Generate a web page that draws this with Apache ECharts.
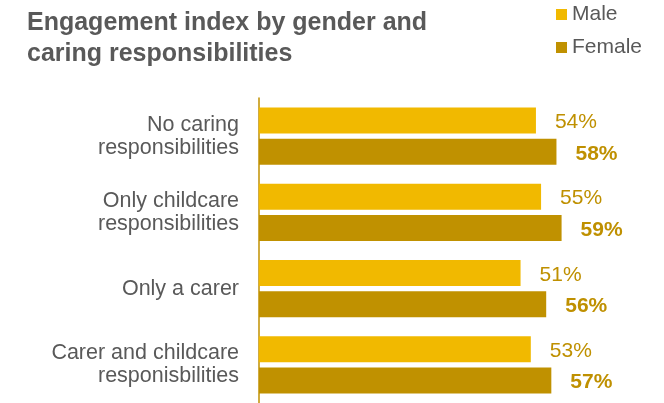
<!DOCTYPE html>
<html>
<head>
<meta charset="utf-8">
<script src="https://cdn.jsdelivr.net/npm/echarts@6/dist/echarts.min.js"></script>
<style>
  html, body { margin: 0; padding: 0; background: #fff; }
  #chart { width: 664px; height: 403px; }
</style>
</head>
<body>
<div id="chart"></div>
<script>
// Engagement index (%) by gender and caring responsibilities
const categories = [
  'No caring\nresponsibilities',
  'Only childcare\nresponsibilities',
  'Only a carer',
  'Carer and childcare\nresponisbilities'
];
const maleValues = [54, 55, 51, 53];
const femaleValues = [58, 59, 56, 57];
const seriesNames = ['Male', 'Female'];

const MALE_COLOR = '#F1B900';
const FEMALE_COLOR = '#C09100';
const LABEL_COLOR = '#BF9000';
const TEXT_COLOR = '#595959';
const FONT = '"Liberation Sans", Arial, Helvetica, sans-serif';

const chart = echarts.init(document.getElementById('chart'), null, { renderer: 'canvas' });

function valueLabel(bold) {
  return {
    show: true,
    position: 'right',
    distance: 19,
    offset: [0, 2],
    formatter: '{c}%',
    fontFamily: FONT,
    fontSize: 21,
    fontWeight: bold ? 'bold' : 'normal',
    color: LABEL_COLOR
  };
}

chart.setOption({
  animation: false,
  backgroundColor: '#ffffff',
  title: {
    text: 'Engagement index by gender and\ncaring responsibilities',
    left: 27,
    top: 8,
    padding: 0,
    textStyle: {
      fontFamily: FONT,
      fontWeight: 'bold',
      fontSize: 25,
      lineHeight: 31,
      color: TEXT_COLOR
    }
  },
  legend: {
    orient: 'vertical',
    left: 556,
    top: 4,
    padding: 0,
    itemWidth: 11,
    itemHeight: 11,
    itemGap: 12,
    icon: 'rect',
    data: seriesNames,
    textStyle: {
      fontFamily: FONT,
      fontSize: 21,
      color: TEXT_COLOR
    }
  },
  grid: {
    left: 259,
    top: 98,
    width: 359,
    height: 308,
    containLabel: false
  },
  xAxis: {
    type: 'value',
    min: 0,
    max: 70,
    show: false
  },
  yAxis: {
    type: 'category',
    inverse: true,
    data: categories,
    axisLine: { show: true, lineStyle: { color: FEMALE_COLOR, width: 1.5 } },
    axisTick: { show: false },
    splitLine: { show: false },
    axisLabel: {
      margin: 20,
      fontFamily: FONT,
      fontSize: 21.5,
      lineHeight: 23,
      color: TEXT_COLOR,
      align: 'right'
    }
  },
  series: [
    {
      name: seriesNames[0],
      type: 'bar',
      data: maleValues,
      barWidth: 26,
      barGap: '21%',
      itemStyle: { color: MALE_COLOR },
      label: valueLabel(false)
    },
    {
      name: seriesNames[1],
      type: 'bar',
      data: femaleValues,
      barWidth: 26,
      barGap: '21%',
      itemStyle: { color: FEMALE_COLOR },
      label: valueLabel(true)
    }
  ]
});
</script>
</body>
</html>
